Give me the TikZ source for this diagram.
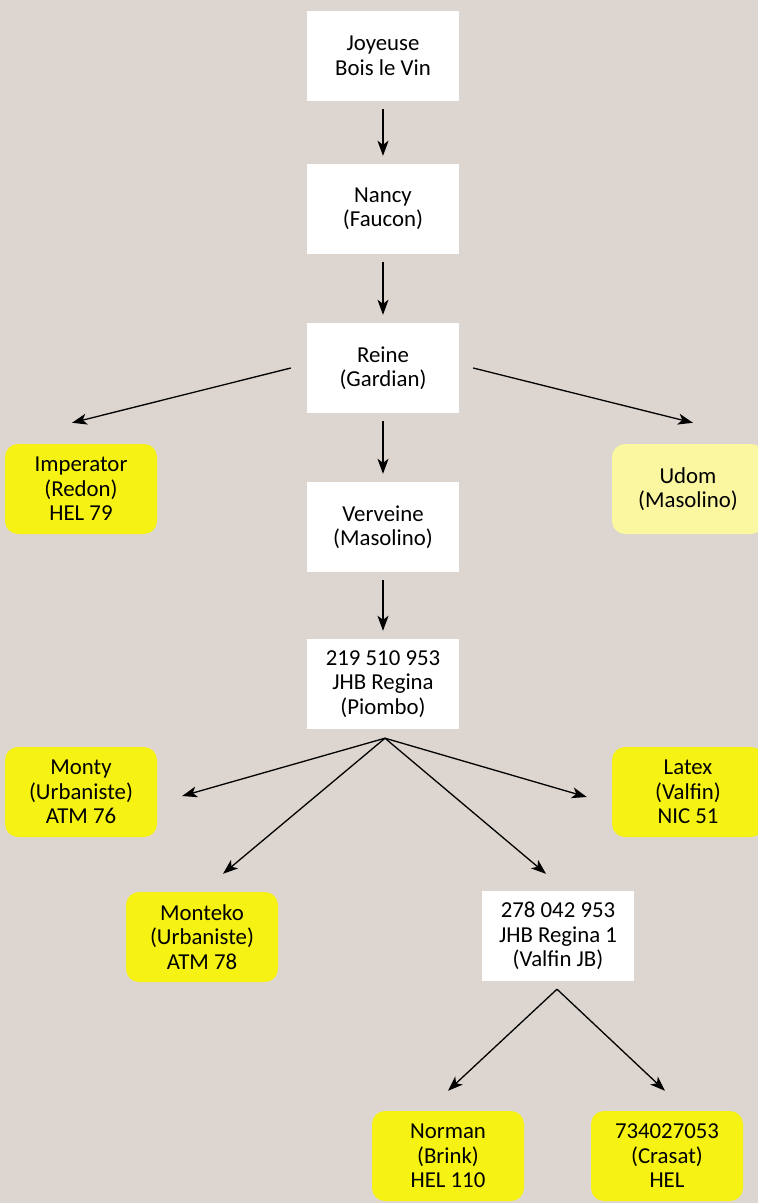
\documentclass[tikz,border=0pt]{standalone}
\usepackage{fontspec}
\setmainfont{Carlito}
\usetikzlibrary{arrows.meta}
\definecolor{bg}{HTML}{DCD5D0}
\definecolor{hl}{HTML}{F6F314}
\definecolor{hlpale}{HTML}{FBF7A0}

\begin{document}
\begin{tikzpicture}[x=1pt, y=-1pt,
	font=\fontsize{22.8}{24.5}\selectfont,
	box/.style={fill=white, align=center, minimum width=152pt, minimum height=90pt, inner sep=0pt},
	leaf/.style={box, fill=hl, rounded corners=13pt},
	arr/.style={-{Stealth[length=15pt, width=11pt, inset=4pt]}, line width=1.3pt},
	down/.style={arr, shorten <=8pt, shorten >=8pt}]
	\fill[bg] (0,0) rectangle (758,1203);
	\useasboundingbox (0,0) rectangle (758,1203);

	% main line
	\node[box] at (383,56)(joy){Joyeuse\\Bois le Vin};
	\node[box] at (383,209)(nancy){Nancy\\(Faucon)};
	\node[box] at (383,368)(reine){Reine\\(Gardian)};
	\node[box] at (383,527)(verv){Verveine\\(Masolino)};
	\node[box] at (383,684)(reg){219 510 953\\JHB Regina\\(Piombo)};
	\node[box] at (558,936)(reg1){278 042 953\\JHB Regina 1\\(Valfin JB)};
	\path[down] (joy) edge (nancy)	(nancy) edge (reine)	(reine) edge (verv)	(verv) edge (reg);

	% offspring
	\node[leaf] at (81,489)(imp){Imperator\\(Redon)\\HEL 79};
	\node[leaf, fill=hlpale] at (688,489)(udom){Udom\\(Masolino)};
	\node[leaf] at (81,792)(monty){Monty\\(Urbaniste)\\ATM 76};
	\node[leaf] at (202,937)(monteko){Monteko\\(Urbaniste)\\ATM 78};
	\node[leaf] at (688,792)(latex){Latex\\(Valfin)\\NIC 51};
	\node[leaf] at (448,1156)(norman){Norman\\(Brink)\\HEL 110};
	\node[leaf] at (667,1156)(crasat){734027053\\(Crasat)\\HEL};

	\path[arr]
		([xshift=-16pt]reine.west) edge ([xshift=-9pt, yshift=21pt]imp.north)
		([xshift=14pt]reine.east) edge ([xshift=5pt, yshift=21pt]udom.north);

	\coordinate (fan) at ([xshift=2pt, yshift=-9pt]reg.south);
	\path[arr]
		(fan) edge ([xshift=25pt, yshift=-4pt]monty.east)
		(fan) edge ([xshift=21pt, yshift=18pt]monteko.north)
		(fan) edge ([xshift=-25pt, yshift=-5pt]latex.west)
		(fan) edge ([xshift=-12pt, yshift=17pt]reg1.north);

	\coordinate (fan1) at ([xshift=-1pt, yshift=-8pt]reg1.south);
	\path[arr]
		(fan1) edge ([yshift=20pt]norman.north)
		(fan1) edge ([xshift=-2pt, yshift=20pt]crasat.north);
\end{tikzpicture}
\end{document}
